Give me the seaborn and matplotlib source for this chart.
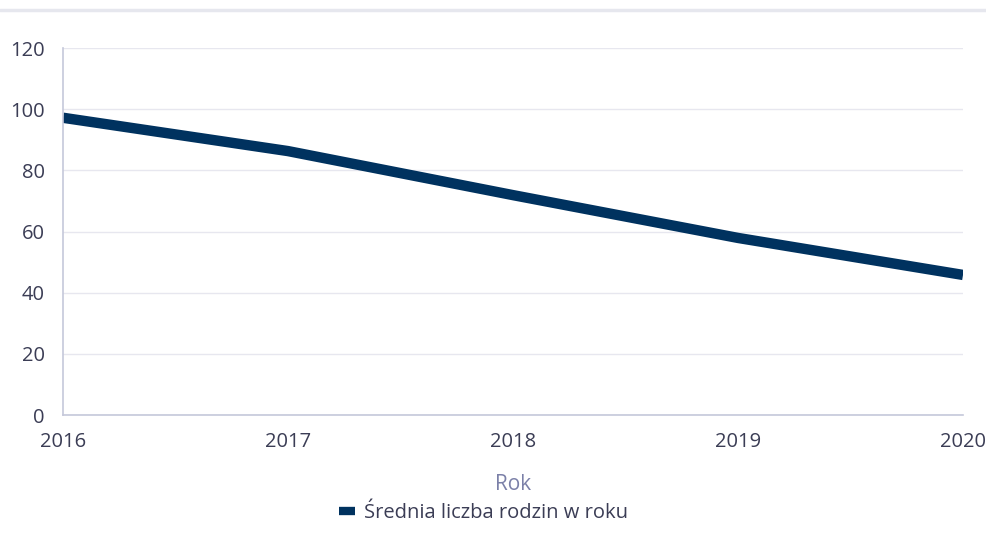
import pandas as pd
import matplotlib.pyplot as plt
import seaborn as sns
from matplotlib.lines import Line2D

# Data
years = [2016, 2017, 2018, 2019, 2020]
avg_families = [97.2, 86.3, 71.9, 57.9, 45.8]
y_ticks = [0, 20, 40, 60, 80, 100, 120]
series_label = "Średnia liczba rodzin w roku"

df = pd.DataFrame({"Rok": years, "value": avg_families})

sns.set_theme(style="white")
plt.rcParams['font.family'] = ['Open Sans', 'DejaVu Sans']

fig = plt.figure(figsize=(9.87, 5.42), dpi=100)
ax = fig.add_axes([0.0638, 0.2343, 0.9119, 0.6771])

line_color = "#00325f"
text_color = "#3b3d55"
axis_color = "#c5c8da"
grid_color = "#e7e7ef"

sns.lineplot(data=df, x="Rok", y="value", color=line_color, linewidth=7.5,
             label=series_label, ax=ax, solid_capstyle="butt")

ax.set_xlim(years[0], years[-1])
ax.set_ylim(0, 120)
ax.set_xticks(years)
ax.set_xticklabels([str(y) for y in years])
ax.set_yticks(y_ticks)
ax.tick_params(axis="both", length=0, labelsize=14.5, colors=text_color)
ax.tick_params(axis="y", pad=13)
ax.tick_params(axis="x", pad=12)

ax.yaxis.grid(True, color=grid_color, linewidth=1)
ax.xaxis.grid(False)
ax.set_axisbelow(True)

for side in ["top", "right"]:
    ax.spines[side].set_visible(False)
for side in ["left", "bottom"]:
    ax.spines[side].set_color(axis_color)
    ax.spines[side].set_linewidth(1.2)

ax.set_xlabel("Rok", fontsize=15, color="#7b80a8", labelpad=16)
ax.set_ylabel("")

leg = ax.legend(loc="center", bbox_to_anchor=(0.49, 0.053),
                bbox_transform=fig.transFigure, frameon=False,
                fontsize=14.5, handlelength=0.8, handletextpad=0.45)
for t in leg.get_texts():
    t.set_color(text_color)
for h in leg.get_lines():
    h.set_linewidth(6)
    h.set_solid_capstyle("butt")

# thin separator line at the very top
fig.add_artist(Line2D([0, 1], [0.982, 0.982], transform=fig.transFigure,
                      color="#e6e7ee", linewidth=2.5))

plt.savefig("out.png", dpi=100)
